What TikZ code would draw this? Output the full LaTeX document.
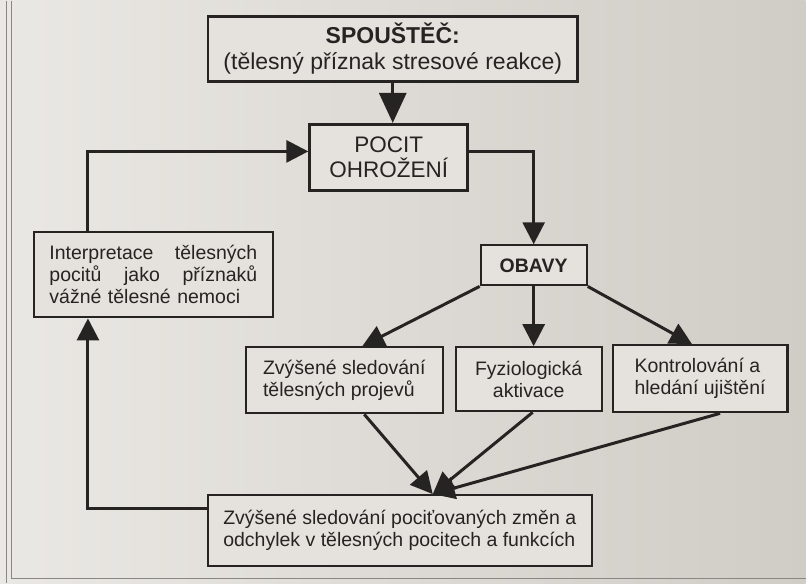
\documentclass[tikz,border=0pt]{standalone}
\usepackage{fontspec}
\setmainfont{Liberation Sans}
\usetikzlibrary{arrows.meta,positioning,calc}
\definecolor{paperL}{RGB}{234,232,228}
\definecolor{paperR}{RGB}{208,204,198}
\definecolor{boxfill}{RGB}{229,226,221}
\definecolor{ink}{RGB}{38,36,34}

\begin{document}
\begin{tikzpicture}[x=1pt, y=-1pt,
    box/.style = {draw=ink, line width=2.2pt, fill=boxfill, text=ink, inner sep=0pt,
                  font=\fontsize{19.5}{22}\selectfont, align=left},
    arr/.style = {draw=ink, line width=3pt, -{Triangle[length=22pt,width=22pt]}}]
    \shade[left color=paperL, right color=paperR] (0,0) rectangle (806,583);
    \draw[ink!55, line width=1pt] (7,0) -- (7,583) (12,0) -- (12,578) -- (806,578);

    \node [box, line width=2.5pt, align=center, minimum width=370pt, minimum height=65pt,
           font=\fontsize{23}{26}\selectfont] (trig) at (393,48.5)
        {\textbf{SPOUŠTĚČ:}\\(tělesný příznak stresové reakce)};
    \node [box, line width=3pt, align=center, minimum width=158pt, minimum height=66pt,
           font=\fontsize{22.5}{25}\selectfont] (pocit) at (389,157)
        {POCIT\\OHROŽENÍ};
    \node [box, minimum width=106pt, minimum height=40pt] (obavy) at (534,265) {\textbf{OBAVY}};
    \node [box, text width=208pt, inner xsep=15.5pt, minimum height=85pt] (interp) at (153.5,274.5)
        {Interpretace\hfill tělesných\\pocitů\hfill jako\hfill příznaků\\vážné tělesné nemoci};
    \node [box, minimum width=197pt, minimum height=66pt] (zvys) at (344.5,380)
        {Zvýšené sledování\\tělesných projevů};
    \node [box, align=center, minimum width=146pt, minimum height=64pt] (fyz) at (529,379)
        {Fyziologická\\aktivace};
    \node [box, minimum width=175pt, minimum height=67pt] (kontr) at (700.5,378.5)
        {Kontrolování a\\hledání ujištění};
    \node [box, minimum width=384pt, minimum height=71pt] (sled) at (400,530.5)
        {Zvýšené sledování pociťovaných změn a\\odchylek v tělesných pocitech a funkcích};

    \coordinate (lev) at (0,151);
    \coordinate (lx) at (88,0);
    \coordinate (ly) at (0,508);
    \coordinate (meet) at ($(sled.north)+(33,0)$);

    \draw [arr, -{Triangle[length=30pt,width=27pt]}] (trig.south) -- (trig.south |- pocit.north);
    \draw [arr] (pocit.east |- lev) -| (obavy.north);
    \draw [arr] (lx |- interp.north) |- (pocit.west |- lev);
    \draw [arr] (obavy.south west) -- ($(zvys.north)+(18,0)$);
    \draw [arr] (obavy.south) -- (obavy.south |- fyz.north);
    \draw [arr] (obavy.south east) -- ($(kontr.north)+(-8,0)$);
    \draw [arr] ($(zvys.south)+(20,0)$) -- (meet);
    \draw [arr] ($(fyz.south)+(4,0)$) -- (meet);
    \draw [arr] ($(kontr.south)+(20,0)$) -- (meet);
    \draw [arr] (sled.west |- ly) -| (interp.south -| lx);
\end{tikzpicture}
\end{document}
